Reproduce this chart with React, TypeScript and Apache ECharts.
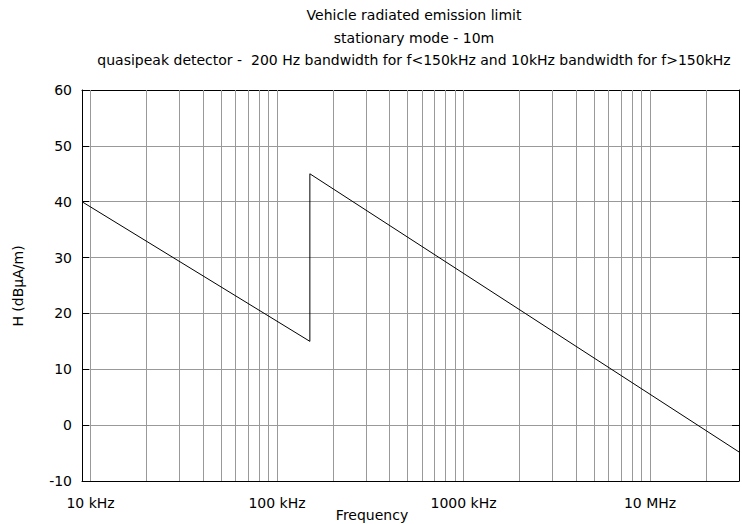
import React, { useEffect, useRef } from "react";
import * as echarts from "echarts";

const titleLines = [
  "Vehicle radiated emission limit",
  "stationary mode - 10m",
  "quasipeak detector -  200 Hz bandwidth for f<150kHz and 10kHz bandwidth for f>150kHz",
];
const xName = "Frequency";
const yName = "H (dBμA/m)";

// frequency in kHz
const freqKHz = [9, 150, 150, 30000];
const limitDb = [40, 15, 45, -4.8];

const xMin = 9;
const xMax = 30000;
const yMin = -10;
const yMax = 60;
const yStep = 10;

const majorLabels: [number, string][] = [
  [10, "10 kHz"],
  [100, "100 kHz"],
  [1000, "1000 kHz"],
  [10000, "10 MHz"],
];

const gridFreqs = [
  10, 20, 30, 40, 50, 60, 70, 80, 90,
  100, 200, 300, 400, 500, 600, 700, 800, 900,
  1000, 2000, 3000, 4000, 5000, 6000, 7000, 8000, 9000,
  10000, 20000,
];

const FONT = "DejaVu Sans, Arial, sans-serif";
const FS = 14;

export default function App() {
  const ref = useRef<HTMLDivElement>(null);
  useEffect(() => {
    if (!ref.current) return;
    const chart = echarts.init(ref.current, null, { renderer: "svg" });
    const labelFor = (v: number) => {
      for (const [f, t] of majorLabels) {
        if (Math.abs(v - f) / f < 1e-6) return t;
      }
      return "";
    };
    const gridLeft = 82;
    const gridRight = -4;
    const plotCenter = gridLeft + (742 - gridLeft - gridRight) / 2;
    chart.setOption({
      animation: false,
      backgroundColor: "#ffffff",
      textStyle: { fontFamily: FONT },
      grid: { left: gridLeft, right: gridRight, top: 90, bottom: 43, containLabel: false },
      graphic: [
        ...titleLines.map((t, i) => ({
          type: "text",
          x: plotCenter,
          y: 15 + i * 22.5,
          style: {
            text: t,
            fontSize: FS,
            fontFamily: FONT,
            fill: "#000",
            textAlign: "center",
            textVerticalAlign: "middle",
          },
        })),
        {
          type: "text",
          x: 372,
          y: 515,
          style: {
            text: xName,
            fontSize: FS,
            fontFamily: FONT,
            fill: "#000",
            textAlign: "center",
            textVerticalAlign: "middle",
          },
        },
        {
          type: "text",
          x: 18,
          y: 286,
          rotation: Math.PI / 2,
          style: {
            text: yName,
            fontSize: FS,
            fontFamily: FONT,
            fill: "#000",
            textAlign: "center",
            textVerticalAlign: "middle",
          },
        },
      ],
      xAxis: [
        {
          type: "log",
          logBase: 10,
          min: xMin,
          max: xMax,
          position: "bottom",
          axisLine: { show: true, onZero: false, lineStyle: { color: "#000", width: 1 } },
          axisTick: { show: true, inside: true, length: 6, lineStyle: { color: "#000" } },
          axisLabel: {
            show: true,
            formatter: labelFor,
            color: "#000",
            fontSize: FS,
            fontFamily: FONT,
            margin: 15,
            showMinLabel: true,
            showMaxLabel: true,
          },
          splitLine: { show: false },
        },
        {
          type: "log",
          logBase: 10,
          min: xMin,
          max: xMax,
          position: "top",
          axisLine: { show: true, onZero: false, lineStyle: { color: "#000", width: 1 } },
          axisTick: { show: true, inside: true, length: 6, lineStyle: { color: "#000" } },
          axisLabel: { show: false },
          splitLine: { show: false },
        },
      ],
      yAxis: [
        {
          type: "value",
          min: yMin,
          max: yMax,
          interval: yStep,
          position: "left",
          axisLine: { show: true, onZero: false, lineStyle: { color: "#000", width: 1 } },
          axisTick: { show: true, inside: true, length: 7, lineStyle: { color: "#000" } },
          axisLabel: { color: "#000", fontSize: FS, fontFamily: FONT, margin: 10 },
          splitLine: { show: true, lineStyle: { color: "#999", width: 1 } },
        },
        {
          type: "value",
          min: yMin,
          max: yMax,
          interval: yStep,
          position: "right",
          axisLine: { show: true, onZero: false, lineStyle: { color: "#000", width: 1 } },
          axisTick: { show: true, inside: true, length: 7, lineStyle: { color: "#000" } },
          axisLabel: { show: false },
          splitLine: { show: false },
        },
      ],
      series: [
        {
          type: "line",
          z: 1,
          xAxisIndex: 0,
          yAxisIndex: 0,
          data: [[xMin, 0]],
          symbol: "none",
          lineStyle: { opacity: 0 },
          silent: true,
          markLine: {
            silent: true,
            symbol: ["none", "none"],
            label: { show: false },
            lineStyle: { color: "#999", type: "solid", width: 1 },
            data: gridFreqs.map((f) => ({ xAxis: f })),
          },
        },
        {
          type: "line",
          z: 5,
          xAxisIndex: 0,
          yAxisIndex: 0,
          data: freqKHz.map((f, i) => [f, limitDb[i]]),
          symbol: "none",
          lineStyle: { color: "#000", width: 1 },
        },
      ],
    });
    return () => chart.dispose();
  }, []);
  return (
    <div
      ref={ref}
      style={{ position: "fixed", left: 0, top: 0, width: 742, height: 524 }}
    />
  );
}
